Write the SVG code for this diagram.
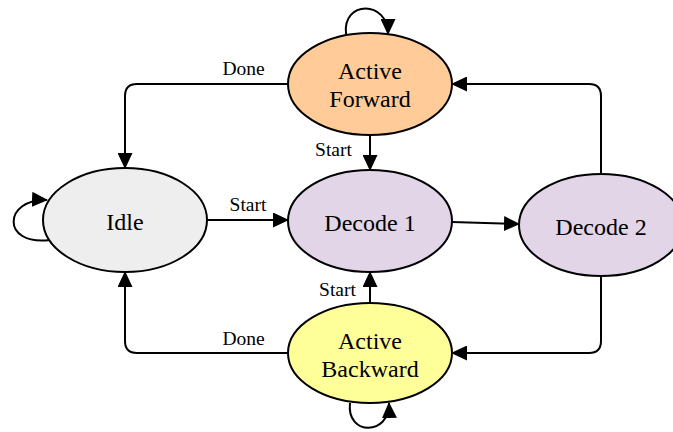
<svg xmlns="http://www.w3.org/2000/svg" width="673" height="432" viewBox="0 0 673 432">
  <style>
    .node ellipse { stroke: #000; stroke-width: 2; }
    .node text { font-family: "Liberation Serif", "Times New Roman", serif; font-size: 24px; fill: #000; text-anchor: middle; }
    .edge { fill: none; stroke: #000; stroke-width: 2; }
    .lbl { font-family: "Liberation Serif", "Times New Roman", serif; font-size: 19.5px; fill: #000; text-anchor: middle; }
  </style>
  <defs>
    <marker id="arrow" viewBox="0 0 16 15" refX="15" refY="7.5" markerWidth="16" markerHeight="15" markerUnits="userSpaceOnUse" orient="auto">
      <path d="M0,0 L16,7.5 L0,15 Z" fill="#000"/>
    </marker>
  </defs>

  <g id="connectors">
    <!-- Active Forward -> Idle (Done) -->
    <path class="edge" marker-end="url(#arrow)" d="M288,84 H137 Q125,84 125,96 V168"/>
    <text class="lbl" x="243.5" y="75">Done</text>
    <!-- Active Forward -> Decode 1 (Start) -->
    <path class="edge" marker-end="url(#arrow)" d="M370,135 V170"/>
    <text class="lbl" x="333.5" y="156">Start</text>
    <!-- Idle -> Decode 1 (Start) -->
    <path class="edge" marker-end="url(#arrow)" d="M207,220 H288"/>
    <text class="lbl" x="248" y="211">Start</text>
    <!-- Decode 1 -> Decode 2 -->
    <path class="edge" marker-end="url(#arrow)" d="M452,222 L519,224"/>
    <!-- Decode 2 -> Active Forward -->
    <path class="edge" marker-end="url(#arrow)" d="M601,174 V96 Q601,84 589,84 H452"/>
    <!-- Decode 2 -> Active Backward -->
    <path class="edge" marker-end="url(#arrow)" d="M601,276 V341 Q601,353 589,353 H452"/>
    <!-- Active Backward -> Decode 1 (Start) -->
    <path class="edge" marker-end="url(#arrow)" d="M370,303 V272"/>
    <text class="lbl" x="337.5" y="296">Start</text>
    <!-- Active Backward -> Idle (Done) -->
    <path class="edge" marker-end="url(#arrow)" d="M288,353 H137 Q125,353 125,341 V272"/>
    <text class="lbl" x="243.5" y="345">Done</text>
    <!-- Self loops -->
    <path class="edge" marker-end="url(#arrow)" d="M346,34 C342,0 388,0 388,34"/>
    <path class="edge" marker-end="url(#arrow)" d="M50,240 C0,246 4,198 47,200"/>
    <path class="edge" marker-end="url(#arrow)" d="M350,403 C346,436 390,436 389,403"/>
  </g>

  <g id="active-forward" class="node">
    <ellipse cx="370" cy="84" rx="82" ry="51" fill="#ffcc99"/>
    <text x="370" y="79">Active</text>
    <text x="370" y="107">Forward</text>
  </g>
  <g id="idle" class="node">
    <ellipse cx="125" cy="220" rx="82" ry="52" fill="#eeeeee"/>
    <text x="125" y="230">Idle</text>
  </g>
  <g id="decode-1" class="node">
    <ellipse cx="370" cy="221" rx="82" ry="51" fill="#e1d5e7"/>
    <text x="370" y="231">Decode 1</text>
  </g>
  <g id="decode-2" class="node">
    <ellipse cx="601" cy="225" rx="82" ry="51" fill="#e1d5e7"/>
    <text x="601" y="235">Decode 2</text>
  </g>
  <g id="active-backward" class="node">
    <ellipse cx="370" cy="353" rx="82" ry="50" fill="#ffff99"/>
    <text x="370" y="349">Active</text>
    <text x="370" y="377">Backward</text>
  </g>
</svg>
